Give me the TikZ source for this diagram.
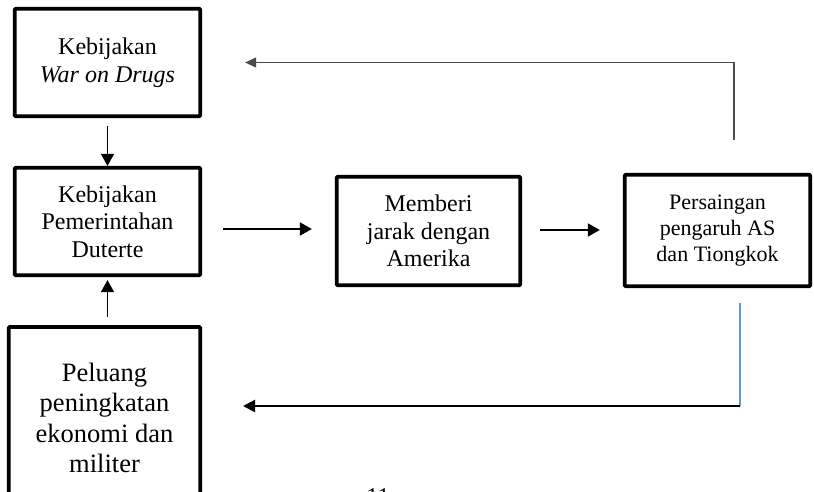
\documentclass[tikz,border=0pt]{standalone}
\usepackage{fontspec}
\setmainfont{Liberation Serif}
\usetikzlibrary{arrows.meta}
\begin{document}
\begin{tikzpicture}[x=1pt,y=-1pt,
  box/.style={draw=black,line width=3.8pt,rounded corners=1pt,align=center,inner sep=0pt},
  big/.style={font=\fontsize{24}{27.5}\selectfont},
  arr/.style={line width=1.8pt,-{Triangle[length=12pt,width=13pt]}},
  fb/.style={line width=1.3pt,draw=black!70},
  fbb/.style={line width=1.5pt,draw={rgb,255:red,91;green,155;blue,213}}]
\useasboundingbox (0,0) rectangle (814,492);
\clip (0,0) rectangle (814,492);
\node[box,big,minimum width=185.5pt,minimum height=107.5pt] (b1) at (107.5,62.5)
  {Kebijakan\\\textit{War on Drugs}};
\node[box,big,minimum width=185.5pt,minimum height=107.5pt] (b2) at (107.5,221.5)
  {Kebijakan\\Pemerintahan\\Duterte};
\node[box,font=\fontsize{26.5}{30.5}\selectfont,minimum width=191.5pt,minimum height=182pt] (b3) at (104.5,418)
  {Peluang\\peningkatan\\ekonomi dan\\militer};
\node[box,big,minimum width=183.5pt,minimum height=108.5pt] (b4) at (428.5,231)
  {Memberi\\jarak dengan\\Amerika};
\node[box,font=\fontsize{22}{26}\selectfont,minimum width=185.5pt,minimum height=111.5pt] (b5) at (717.5,230.5)
  {Persaingan\\pengaruh AS\\dan Tiongkok};
\node[font=\fontsize{24}{28}\selectfont,anchor=base] (pg) at (378,504) {11};
\coordinate (t1) at (734,140);
\coordinate (u1) at (740,303);
\coordinate (u2) at (740,406);
\coordinate (u3) at (243,406);
% arrows
\draw[arr,shorten <=8pt] (b1.south) -- (b2.north);
\draw[arr,shorten <=8pt,shorten >=3pt] (b2.south |- b3.north) -- (b2.south);
\draw[arr,shorten <=21pt,shorten >=23pt] ([yshift=-7.5pt]b2.east) -- ([yshift=2pt]b4.west);
\draw[arr,shorten <=18pt,shorten >=23pt] ([yshift=1pt]b4.east) -- ([yshift=0.5pt]b5.west);
\draw[fb,-{Triangle[length=11pt,width=10pt]},shorten >=43pt] (t1) |- (b1.east);
\draw[fbb] (u1) -- (u2);
\draw[line width=2pt,-{Triangle[length=12pt,width=12pt]}] (u2) -- (u3);
\end{tikzpicture}
\end{document}
